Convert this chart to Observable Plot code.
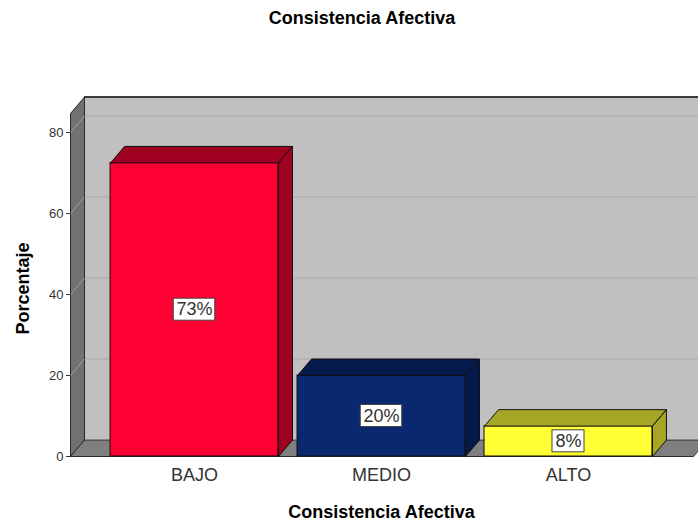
<!DOCTYPE html>
<html>
<head>
<meta charset="utf-8">
<script src="https://cdn.jsdelivr.net/npm/d3@7"></script>
<script src="https://cdn.jsdelivr.net/npm/@observablehq/plot@0.6"></script>
<style>
  body { margin: 0; background: #fff; }
  #chart svg { display: block; }
</style>
</head>
<body>
<div id="chart"></div>
<script>
// ---- data ----
const categories = ["BAJO", "MEDIO", "ALTO"];
const percentages = [72.5, 20.0, 7.5];
const frontFill = ["#ff0033", "#0a2870", "#ffff33"];
const sideFill = ["#a00021", "#05194a", "#a5a526"];
const yTicks = [0, 20, 40, 60, 80];
const chartTitle = "Consistencia Afectiva";
const xTitle = "Consistencia Afectiva";
const yTitle = "Porcentaje";

// ---- 3D box geometry (data units) ----
const xL = -0.6631, xR = 2.668, yTop = 84.7;
const DX = 0.0749, DY = 4.07, HW = 0.449;

const bars = categories.map((c, i) => ({
  c, i, v: percentages[i], front: frontFill[i], side: sideFill[i],
  label: Math.round(percentages[i]) + "%"
}));

function poly(id, pts, fill) {
  const all = pts.concat([pts[0]]);
  return all.map(([x, y]) => ({ id, x, y, fill }));
}

const wallPolys = [
  ...poly("left", [[xL, 0], [xL, yTop], [xL + DX, yTop + DY], [xL + DX, DY]], "#717171"),
  ...poly("floor", [[xL, 0], [xR, 0], [xR + DX, DY], [xL + DX, DY]], "#7f7f7f")
];

const barPolys = bars.flatMap(b => {
  const x1 = b.i - HW, x2 = b.i + HW;
  return [
    ...poly("top" + b.i, [[x1, b.v], [x2, b.v], [x2 + DX, b.v + DY], [x1 + DX, b.v + DY]], b.side),
    ...poly("side" + b.i, [[x2, 0], [x2, b.v], [x2 + DX, b.v + DY], [x2 + DX, DY]], b.side)
  ];
});

const gridTicks = yTicks.filter(t => t > 0);

const labelMarks = bars.map(b => {
  const w = b.label.length * 9.5 + 13;
  return Plot.rect([b], {
    x1: d => d.i, x2: d => d.i, y1: d => d.v / 2, y2: d => d.v / 2,
    insetLeft: -w / 2, insetRight: -w / 2, insetTop: -11, insetBottom: -11,
    fill: "white", stroke: "#444", strokeWidth: 1
  });
});

const chart = Plot.plot({
  width: 698,
  height: 524,
  marginLeft: 70,
  marginRight: 0,
  marginTop: 113,
  marginBottom: 68,
  style: { fontFamily: "'Liberation Sans', Arial, sans-serif", background: "white" },
  x: { domain: [-0.6631, 2.6952], axis: null },
  y: { domain: [0, yTop], axis: null },
  color: { type: "identity" },
  marks: [
    // back wall
    Plot.rect([0], { x1: xL + DX, x2: xR + DX, y1: DY, y2: yTop + DY, fill: "#c0c0c0" }),
    Plot.ruleY(gridTicks, { y: d => d + DY, x1: xL + DX, x2: xR + DX, stroke: "#a9a9a9", strokeWidth: 1 }),
    Plot.ruleY([yTop + DY], { x1: xL + DX, x2: xR + DX, stroke: "#3c3c3c", strokeWidth: 2 }),
    // left wall and floor
    Plot.line(wallPolys, { x: "x", y: "y", z: "id", fill: d => d.fill, stroke: "#2a2a2a", strokeWidth: 1, strokeLinejoin: "miter" }),
    Plot.link(gridTicks, { x1: xL, y1: d => d, x2: xL + DX, y2: d => d + DY, stroke: "#a0a0a0", strokeWidth: 1 }),
    // ticks and tick labels
    Plot.ruleY(yTicks, { y: d => d, x1: xL, x2: xL, insetLeft: -4, stroke: "#333" }),
    Plot.text(yTicks, { x: xL, y: d => d, text: d => String(d), dx: -7, textAnchor: "end", fontSize: 13, fill: "#333" }),
    // bars
    Plot.rect(bars, { x1: d => d.i - HW, x2: d => d.i + HW, y1: 0, y2: "v", fill: d => d.front, stroke: "#111", strokeWidth: 1 }),
    Plot.line(barPolys, { x: "x", y: "y", z: "id", fill: d => d.fill, stroke: "#111", strokeWidth: 1, strokeLinejoin: "miter" }),
    // value labels
    ...labelMarks,
    Plot.text(bars, { x: "i", y: d => d.v / 2, text: "label", fontSize: 18, fill: "#333" }),
    // category labels
    Plot.text(bars, { x: "i", y: 0, text: "c", dy: 19, fontSize: 18, fill: "#333" }),
    // titles
    Plot.text([xTitle], { x: 1, y: 0, text: d => d, dy: 56, fontSize: 18, fontWeight: "bold", fill: "#000" }),
    Plot.text([chartTitle], { frameAnchor: "top", text: d => d, dx: -22.5, dy: -95.5, fontSize: 18, fontWeight: "bold", fill: "#000", lineAnchor: "middle" }),
    Plot.text([yTitle], { frameAnchor: "left", text: d => d, rotate: -90, dx: -47, dy: 3.5, textAnchor: "middle", lineAnchor: "middle", fontSize: 18, fontWeight: "bold", fill: "#000" })
  ]
});

document.getElementById("chart").appendChild(chart);
</script>
</body>
</html>
